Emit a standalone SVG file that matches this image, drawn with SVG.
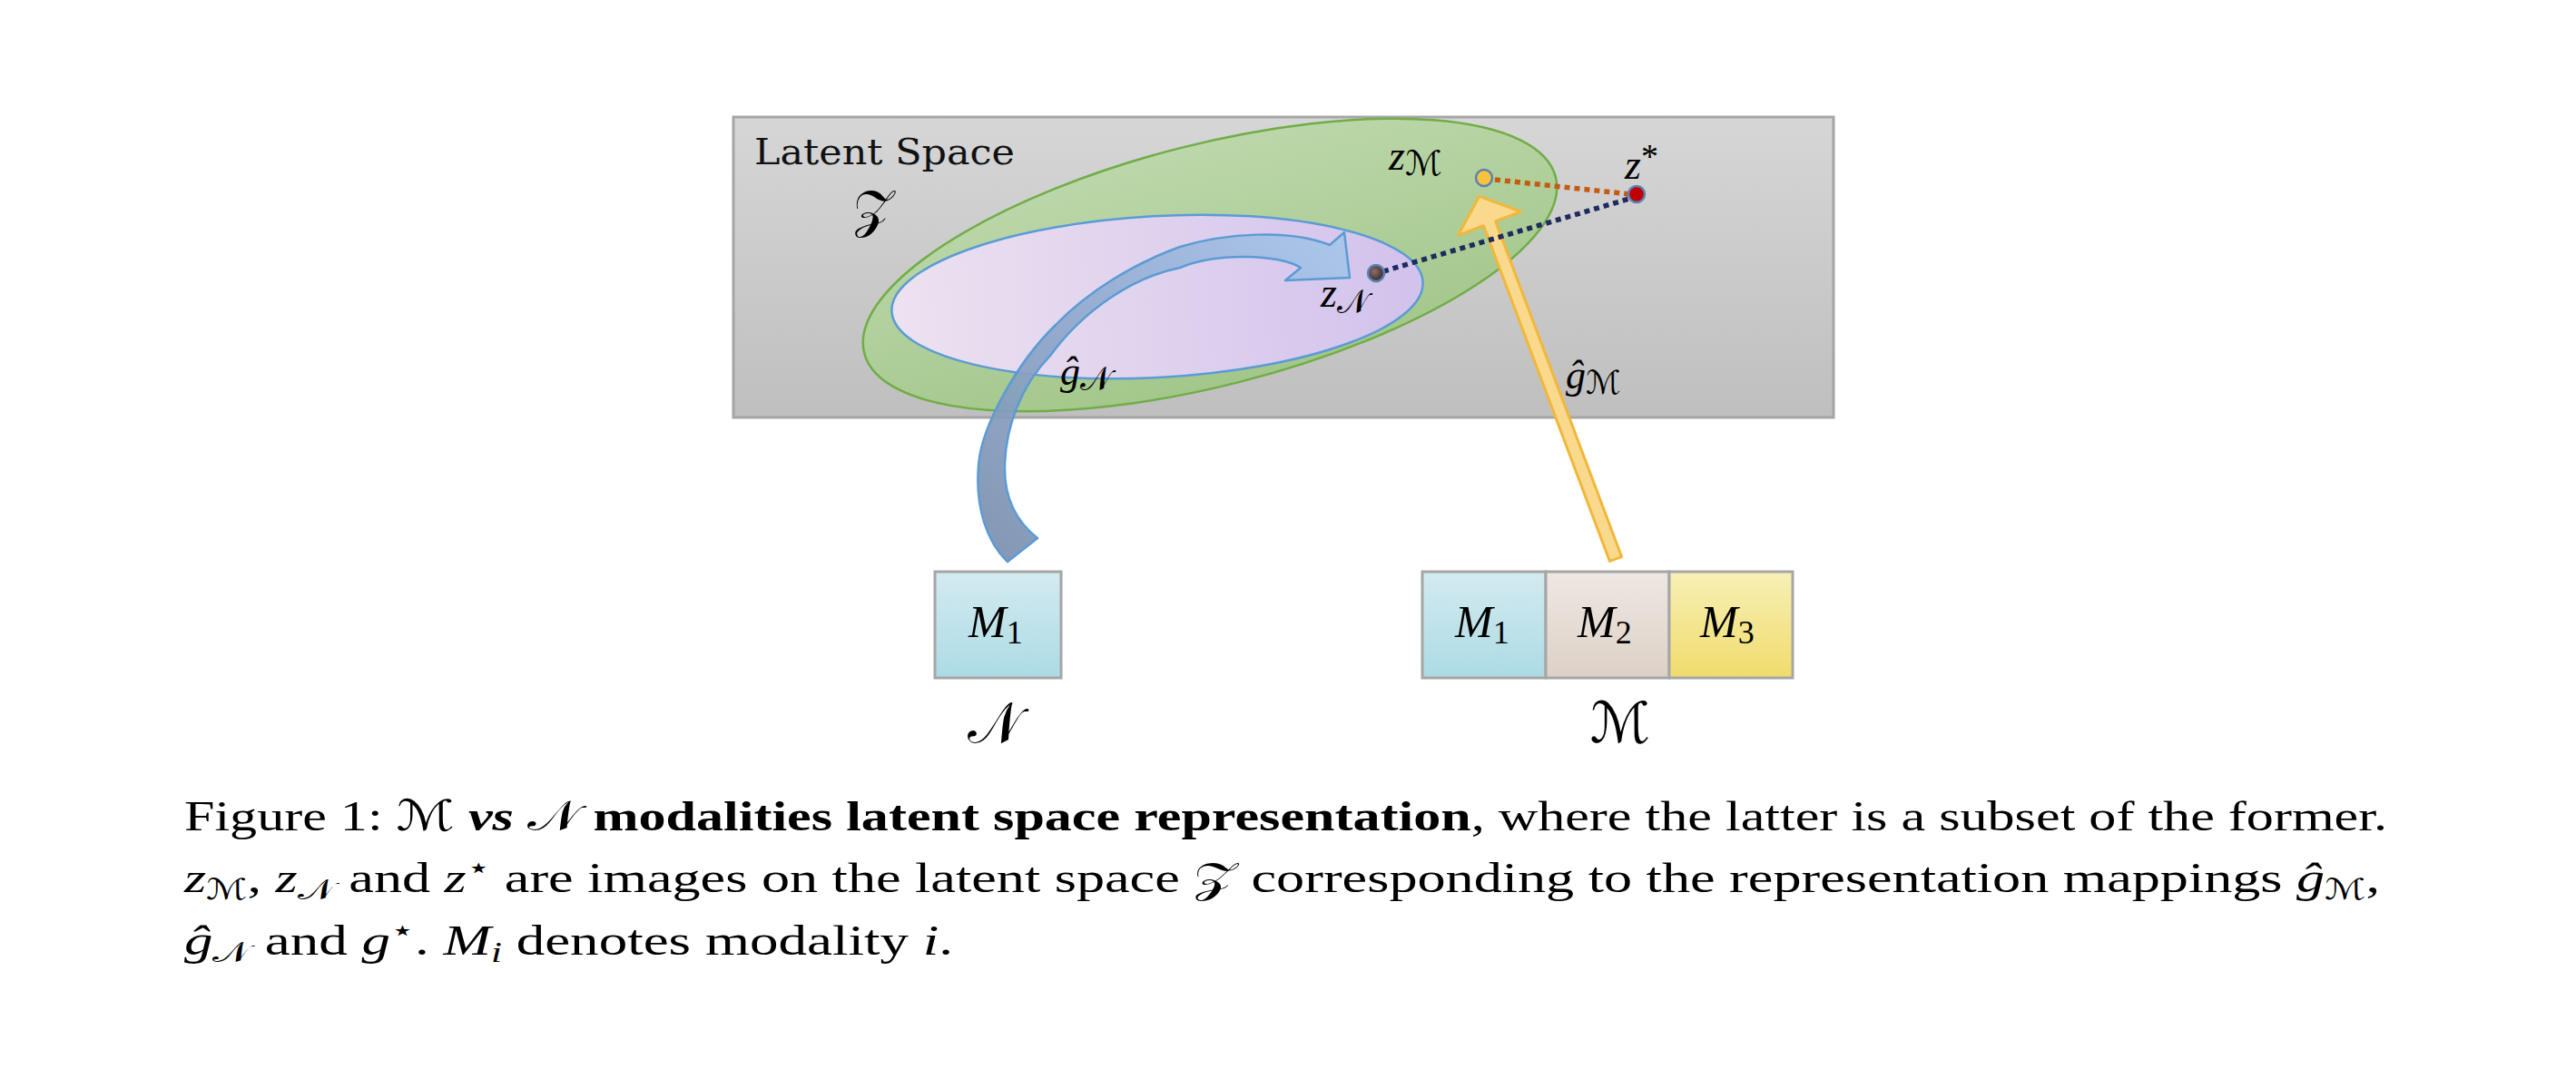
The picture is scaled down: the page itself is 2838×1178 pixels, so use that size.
<svg xmlns="http://www.w3.org/2000/svg" width="2838" height="1178" viewBox="0 0 2838 1178">
<style>
.serif{font-family:"Liberation Serif","DejaVu Serif",serif;fill:#000}
.it{font-style:italic}
.cal{font-family:"DejaVu Serif","DejaVu Sans","Liberation Serif",serif;font-style:normal}
.title{font-family:"DejaVu Serif","Liberation Serif",serif;font-size:39px;fill:#111}
.box{stroke:#a6a6a6;stroke-width:3}
.dot{stroke:#5b82b5;stroke-width:2.5}
.cap{font-family:"Liberation Serif","DejaVu Serif",serif;font-size:47px;fill:#000}
</style>
<defs>
<linearGradient id="gGray" x1="0" y1="0" x2="0" y2="1"><stop offset="0" stop-color="#d6d6d6"/><stop offset="1" stop-color="#bfbfbf"/></linearGradient>
<linearGradient id="gGreen" x1="0" y1="0" x2="0" y2="1"><stop offset="0" stop-color="#bcd7aa"/><stop offset="1" stop-color="#a3c78b"/></linearGradient>
<linearGradient id="gPurple" x1="0" y1="0" x2="1" y2="0"><stop offset="0" stop-color="#ece2f0"/><stop offset="1" stop-color="#d2c2ec"/></linearGradient>
<linearGradient id="gBlueArrow" gradientUnits="userSpaceOnUse" x1="1110" y1="619" x2="1480" y2="270"><stop offset="0" stop-color="#7a90af"/><stop offset="0.45" stop-color="#8ea8cc"/><stop offset="1" stop-color="#a8c5ea"/></linearGradient>
<linearGradient id="gBoxBlue" x1="0" y1="0" x2="0" y2="1"><stop offset="0" stop-color="#d4eaf0"/><stop offset="1" stop-color="#acdbe5"/></linearGradient>
<linearGradient id="gBoxBeige" x1="0" y1="0" x2="0" y2="1"><stop offset="0" stop-color="#eee7e3"/><stop offset="1" stop-color="#ddd1c6"/></linearGradient>
<linearGradient id="gBoxYellow" x1="0" y1="0" x2="0" y2="1"><stop offset="0" stop-color="#f7f0b6"/><stop offset="1" stop-color="#f0dc6c"/></linearGradient>
<radialGradient id="gDotN" cx="0.4" cy="0.4" r="0.6"><stop offset="0" stop-color="#8e6e6e"/><stop offset="1" stop-color="#3c2a2a"/></radialGradient>
</defs>

<g id="latent-space">
<rect x="808" y="129" width="1212" height="331" fill="url(#gGray)" stroke="#a5a5a5" stroke-width="3"/>
<text class="title" x="831" y="181" textLength="287" lengthAdjust="spacingAndGlyphs">Latent Space</text>
<text class="cal" x="940" y="250" font-size="58">𝒵</text>
</g>

<g id="set-M">
<ellipse cx="1333" cy="292" rx="393" ry="133" transform="rotate(-14.3 1333 292)" fill="url(#gGreen)" stroke="#70ad47" stroke-width="2.5"/>
</g>
<g id="set-N">
<ellipse cx="1275" cy="327" rx="293" ry="89" transform="rotate(-3.2 1275 327)" fill="url(#gPurple)" stroke="#5b9bd5" stroke-width="2.5"/>
</g>

<g id="connectors">
<path id="arrow-gN" d="M1110,619 C1088,598 1074,560 1078,513 C1081,470 1120,400 1163,358 C1200,320 1250,290 1300,272 C1350,257 1420,252 1465,270 L1481,256 L1487,306 L1416,309 L1433,295 C1410,280 1340,278 1300,295 C1250,305 1195,340 1157,392 C1125,425 1108,470 1107,513 C1106,550 1120,575 1143,593 Z" fill="url(#gBlueArrow)" fill-opacity="0.92" stroke="#5b9bd5" stroke-width="2.5" stroke-linejoin="round"/>
<polygon id="arrow-gM" transform="translate(1780,616) rotate(-20.6)" points="-7,0 -7,-395 -37,-395 0,-427 37,-395 7,-395 7,0" fill="#f9d98e" stroke="#f2b73a" stroke-width="3" stroke-linejoin="round"/>
<line id="dist-M" x1="1647" y1="198" x2="1796" y2="214" stroke="#c55a11" stroke-width="5.5" stroke-dasharray="6 5"/>
<line id="dist-N" x1="1524" y1="299" x2="1795" y2="219" stroke="#1f2a5e" stroke-width="5.5" stroke-dasharray="6 5"/>
</g>

<g id="point-zM">
<circle class="dot" cx="1635" cy="196" r="9" fill="#f6c33b"/>
<text class="serif it" x="1530" y="187" font-size="46">z<tspan class="cal" font-size="38" dy="6">ℳ</tspan></text>
</g>
<g id="point-zstar">
<circle class="dot" cx="1803" cy="214" r="9" fill="#c00000"/>
<text class="serif it" x="1790" y="197" font-size="46">z<tspan font-style="normal" font-size="38" dy="-12">*</tspan></text>
</g>
<g id="point-zN">
<circle class="dot" cx="1516" cy="301" r="9" fill="url(#gDotN)"/>
<text class="serif it" x="1455" y="338" font-size="46">z<tspan class="cal" font-size="36" dy="7">𝒩</tspan></text>
</g>

<g id="label-gN">
<text class="serif it" x="1168" y="424" font-size="44">ĝ<tspan class="cal" font-size="36" dy="6">𝒩</tspan></text>
</g>
<g id="label-gM">
<text class="serif it" x="1725" y="428" font-size="44">ĝ<tspan class="cal" font-size="36" dy="6">ℳ</tspan></text>
</g>

<g id="node-N">
<rect class="box" x="1030" y="630" width="139" height="117" fill="url(#gBoxBlue)"/>
<text class="serif" x="1067" y="702" font-size="50"><tspan class="it">M</tspan><tspan font-size="36" dy="7">1</tspan></text>
<text class="cal" x="1095" y="818" font-size="62" text-anchor="middle">𝒩</text>
</g>

<g id="node-M">
<rect class="box" x="1567" y="630" width="136" height="117" fill="url(#gBoxBlue)"/>
<rect class="box" x="1703" y="630" width="136" height="117" fill="url(#gBoxBeige)"/>
<rect class="box" x="1839" y="630" width="136" height="117" fill="url(#gBoxYellow)"/>
<text class="serif" x="1603" y="702" font-size="50"><tspan class="it">M</tspan><tspan font-size="36" dy="7">1</tspan></text>
<text class="serif" x="1738" y="702" font-size="50"><tspan class="it">M</tspan><tspan font-size="36" dy="7">2</tspan></text>
<text class="serif" x="1873" y="702" font-size="50"><tspan class="it">M</tspan><tspan font-size="36" dy="7">3</tspan></text>
<text class="cal" x="1785" y="818" font-size="62" text-anchor="middle">ℳ</text>
</g>

<g id="caption">
<text class="cap" x="203" y="915" textLength="2427" lengthAdjust="spacingAndGlyphs">Figure 1: <tspan class="cal">ℳ</tspan> <tspan font-weight="bold" font-style="italic">vs</tspan> <tspan class="cal">𝒩</tspan> <tspan font-weight="bold">modalities latent space representation</tspan>, where the latter is a subset of the former.</text>
<text class="cap" x="203" y="983" textLength="2419" lengthAdjust="spacingAndGlyphs"><tspan class="it">z</tspan><tspan class="cal" font-size="32" dy="8">ℳ</tspan><tspan dy="-8">, </tspan><tspan class="it">z</tspan><tspan class="cal" font-size="32" dy="8">𝒩</tspan><tspan dy="-8"> and </tspan><tspan class="it">z</tspan><tspan font-size="32" dy="-16">⋆</tspan><tspan dy="16"> are images on the latent space </tspan><tspan class="cal">𝒵</tspan> corresponding to the representation mappings <tspan class="it">ĝ</tspan><tspan class="cal" font-size="32" dy="8">ℳ</tspan><tspan dy="-8">,</tspan></text>
<text class="cap" x="203" y="1052" textLength="847" lengthAdjust="spacingAndGlyphs"><tspan class="it">ĝ</tspan><tspan class="cal" font-size="32" dy="8">𝒩</tspan><tspan dy="-8"> and </tspan><tspan class="it">g</tspan><tspan font-size="32" dy="-16">⋆</tspan><tspan dy="16">. </tspan><tspan class="it">M</tspan><tspan class="it" font-size="32" dy="8">i</tspan><tspan dy="-8"> denotes modality </tspan><tspan class="it">i</tspan>.</text>
</g>
</svg>
